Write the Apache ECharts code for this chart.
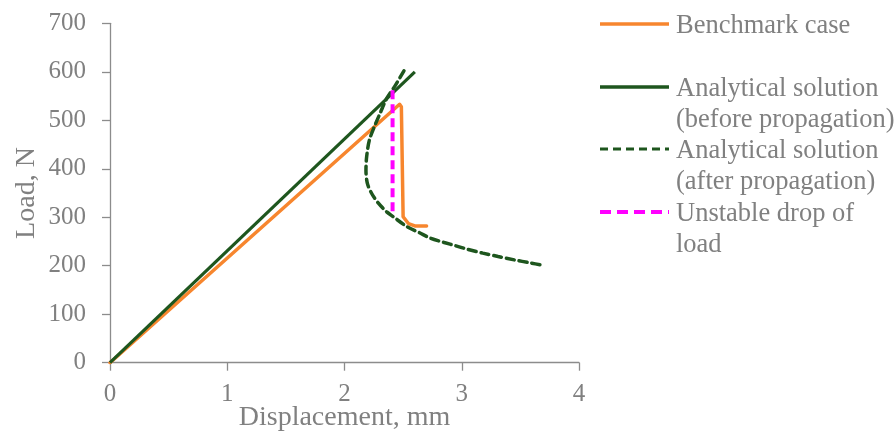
<!DOCTYPE html>
<html>
<head>
<meta charset="utf-8">
<script src="https://cdn.jsdelivr.net/npm/echarts@6/dist/echarts.min.js"></script>
<style>
  html, body { margin: 0; padding: 0; background: #fff; }
  #chart { width: 895px; height: 432px; }
</style>
</head>
<body>
<div id="chart"></div>
<script>
// Load–displacement data (displacement in mm, load in N)
const benchmarkCase = [[0, 0], [2.47, 533], [2.485, 528], [2.50, 301], [2.545, 287], [2.60, 282], [2.70, 282]];
const analyticalBefore = [[0, 0], [2.6, 600]];
const analyticalAfter = [
  [2.507, 602], [2.431, 571], [2.36, 545], [2.303, 514], [2.26, 490], [2.212, 459],
  [2.189, 425], [2.183, 397], [2.195, 370], [2.232, 349], [2.289, 329], [2.36, 311],
  [2.416, 301], [2.53, 281], [2.64, 268], [2.73, 257], [2.85, 248], [2.95, 241],
  [3.05, 234], [3.18, 226], [3.31, 219], [3.45, 212], [3.58, 206], [3.69, 201]
];
const unstableDrop = [[2.41, 562], [2.41, 305]];

const seriesNames = ['Benchmark case', 'Analytical solution (before propagation)', 'Analytical solution (after propagation)', 'Unstable drop of load'];
const legendLines = [
  ['Benchmark case'],
  ['Analytical solution', '(before propagation)'],
  ['Analytical solution', '(after propagation)'],
  ['Unstable drop of', 'load']
];

const ORANGE = '#F7862E';
const GREEN = '#1E561E';
const MAGENTA = '#FF00FF';
const GRAY = '#808080';
const AXIS = '#8C8C8C';
const FONT = '"Liberation Serif", "Times New Roman", serif';

// Legend drawn as graphic elements so the key sits beside the first text line
const legendStyles = [
  { color: ORANGE, width: 3.5, dash: null },
  { color: GREEN, width: 3.5, dash: null },
  { color: GREEN, width: 3.2, dash: [8, 5] },
  { color: MAGENTA, width: 4, dash: [11, 6] }
];
const rowTop = [24, 87, 149, 212];
const lineStep = 31;
const graphics = [];
legendLines.forEach((lines, i) => {
  const s = legendStyles[i];
  graphics.push({
    type: 'line', shape: { x1: 600, y1: rowTop[i], x2: 669, y2: rowTop[i] },
    style: { stroke: s.color, lineWidth: s.width, lineDash: s.dash, lineCap: 'butt' }
  });
  lines.forEach((t, j) => {
    graphics.push({
      type: 'text', x: 676, y: rowTop[i] + 2 + j * lineStep,
      style: { text: t, fill: GRAY, font: '26.5px ' + FONT, textVerticalAlign: 'middle', textAlign: 'left' }
    });
  });
});

const chart = echarts.init(document.getElementById('chart'), null, { renderer: 'canvas' });
chart.setOption({
  animation: false,
  backgroundColor: '#fff',
  grid: { left: 110, right: 316, top: 23.3, bottom: 69.3, containLabel: false, outerBoundsMode: 'none' },
  xAxis: {
    type: 'value', min: 0, max: 4, interval: 1,
    name: 'Displacement, mm', nameLocation: 'middle', nameGap: 41, nameMoveOverlap: false,
    nameTextStyle: { color: GRAY, fontFamily: FONT, fontSize: 28 },
    axisLine: { show: true, lineStyle: { color: AXIS, width: 1.3 } },
    axisTick: { show: true, inside: false, length: 8, lineStyle: { color: AXIS, width: 1.3 } },
    axisLabel: { color: GRAY, fontFamily: FONT, fontSize: 25, margin: 19 },
    splitLine: { show: false }
  },
  yAxis: {
    type: 'value', min: 0, max: 700, interval: 100,
    name: 'Load, N', nameLocation: 'middle', nameGap: 69, nameMoveOverlap: false,
    nameTextStyle: { color: GRAY, fontFamily: FONT, fontSize: 28 },
    axisLine: { show: true, lineStyle: { color: AXIS, width: 1.3 } },
    axisTick: { show: true, inside: false, length: 8, lineStyle: { color: AXIS, width: 1.3 } },
    axisLabel: { color: GRAY, fontFamily: FONT, fontSize: 25, margin: 24 },
    splitLine: { show: false }
  },
  series: [
    {
      name: seriesNames[0], type: 'line', data: benchmarkCase, showSymbol: false,
      lineStyle: { color: ORANGE, width: 3.5, join: 'round', cap: 'round' }, z: 2
    },
    {
      name: seriesNames[1], type: 'line', data: analyticalBefore, showSymbol: false,
      lineStyle: { color: GREEN, width: 3.2 }, z: 3
    },
    {
      name: seriesNames[2], type: 'line', data: analyticalAfter, showSymbol: false, smooth: 0.3,
      lineStyle: { color: GREEN, width: 3.5, type: [8, 5], cap: 'round' }, z: 4
    },
    {
      name: seriesNames[3], type: 'line', data: unstableDrop, showSymbol: false,
      lineStyle: { color: MAGENTA, width: 4, type: [9, 5] }, z: 5
    }
  ],
  graphic: graphics
});
</script>
</body>
</html>
